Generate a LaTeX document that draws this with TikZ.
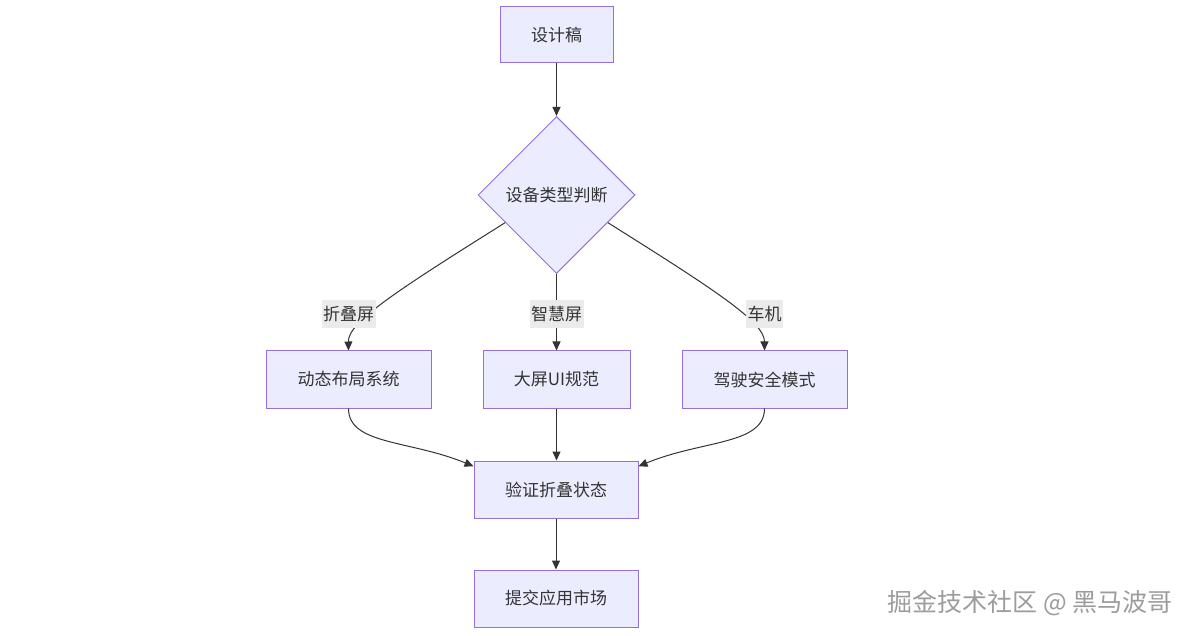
\documentclass[tikz,border=0pt]{standalone}
\usepackage{fontspec}
\setmainfont{Noto Sans CJK SC}
\usetikzlibrary{shapes.geometric,arrows.meta,calc}
\definecolor{nodefill}{HTML}{ECECFF}
\definecolor{nodeline}{HTML}{9370DB}
\definecolor{txt}{HTML}{333333}
\definecolor{edgecol}{HTML}{333333}
\definecolor{lblbg}{HTML}{EBEBEB}
\definecolor{wm}{HTML}{9C9C9C}
\begin{document}
\begin{tikzpicture}[x=1pt,y=-1pt,
  box/.style={rectangle,draw=nodeline,fill=nodefill,line width=1pt,text=txt,
    font=\fontsize{17}{20}\selectfont,inner sep=0pt},
  decide/.style={diamond,draw=nodeline,fill=nodefill,line width=1pt,text=txt,
    font=\fontsize{17}{20}\selectfont,inner sep=0pt,minimum size=157pt},
  edge/.style={draw=edgecol,line width=1pt,-{Triangle[length=9pt,width=8pt]}},
  elabel/.style={fill=lblbg,text=txt,font=\fontsize{17}{20}\selectfont,inner xsep=1.5pt,inner ysep=0pt,minimum height=28pt}]
\useasboundingbox (0,0) rectangle (1192,636);
\node[box,minimum width=113pt,minimum height=56pt] (sj) at (556.5,35) {设计稿};
\node[decide] (dia) at (556.5,195) {设备类型判断};
\node[box,minimum width=165pt,minimum height=57pt] (b1) at (348.5,379.5) {动态布局系统};
\node[box,minimum width=147pt,minimum height=57pt] (b2) at (556.5,379.5) {大屏UI规范};
\node[box,minimum width=165pt,minimum height=57pt] (b3) at (764.5,379.5) {驾驶安全模式};
\node[box,minimum width=164pt,minimum height=57pt] (v) at (556,489.5) {验证折叠状态};
\node[box,minimum width=164pt,minimum height=57pt] (s) at (556,598.5) {提交应用市场};

\coordinate (dl) at ($(dia.west)!0.35!(dia.south)$);
\coordinate (dr) at ($(dia.east)!0.35!(dia.south)$);
\coordinate (vl) at ($(v.north west)!0.1!(v.south west)$);
\coordinate (vr) at ($(v.north east)!0.1!(v.south east)$);

\draw[edge] (sj.south) -- (dia.north);
\draw[edge] (dl) .. controls (398,290) and (348,322) .. (b1.north);
\draw[edge] (dia.south) -- (b2.north);
\draw[edge] (dr) .. controls (715,290) and (764.5,322) .. (b3.north);
\draw[edge] (b1.south) .. controls (348.5,445) and (410,440) .. (vl);
\draw[edge] (b2.south) -- (b2.south |- v.north);
\draw[edge] (b3.south) .. controls (764.5,445) and (702,440) .. (vr);
\draw[edge] (v.south) -- (s.north);

\node[elabel] (l1) at (348.5,314) {折叠屏};
\node[elabel] (l2) at (556.5,314) {智慧屏};
\node[elabel] (l3) at (764.5,314) {车机};

\node[text=wm,font=\fontsize{25}{29}\selectfont,anchor=east,inner sep=0pt] (wmk) at (1173,603) {掘金技术社区 @ 黑马波哥};
\end{tikzpicture}
\end{document}
